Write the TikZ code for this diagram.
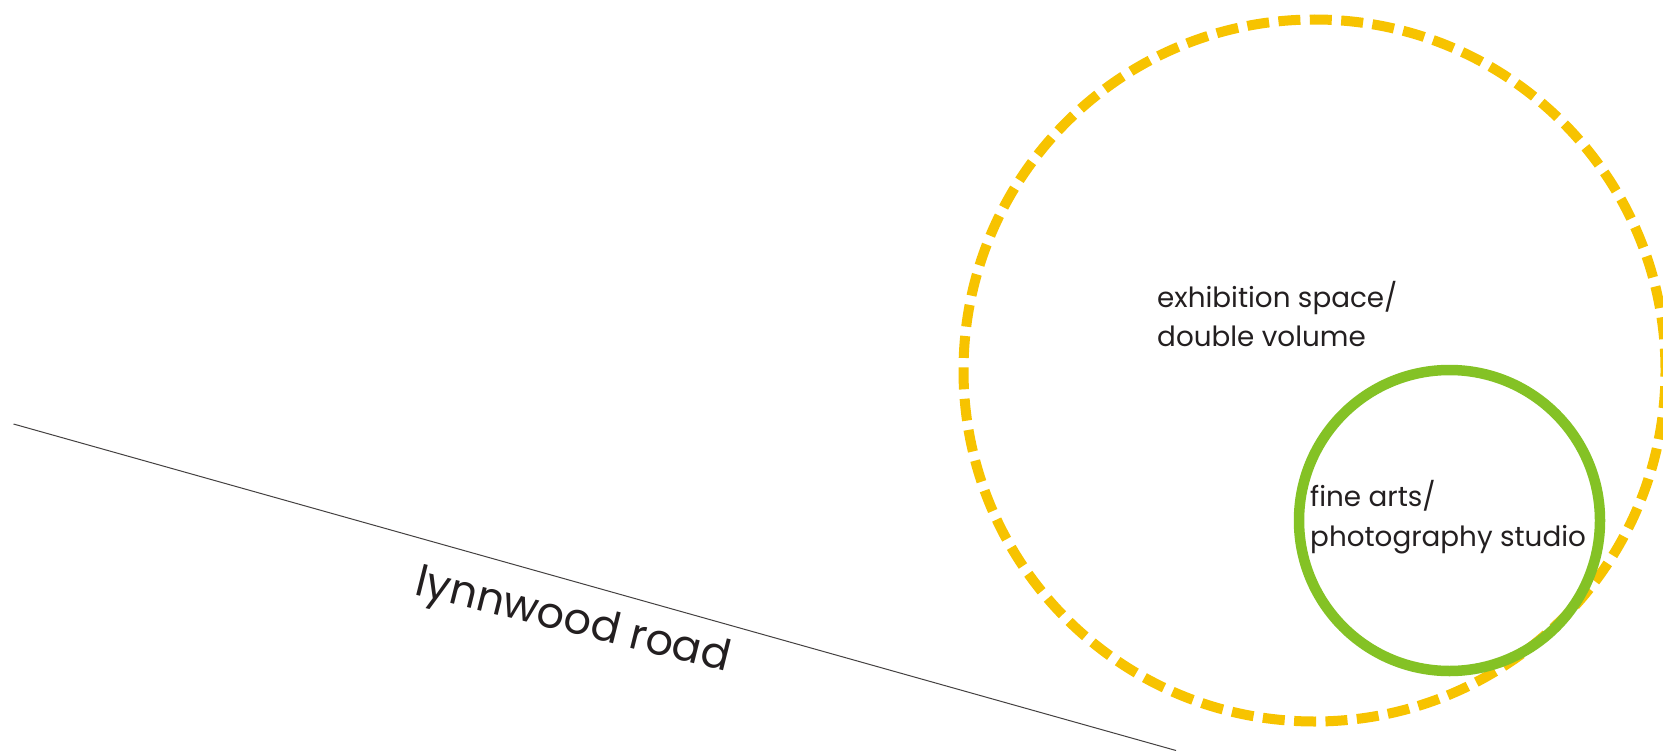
\documentclass[tikz,border=0pt]{standalone}
\usepackage{fontspec}
\setmainfont{Poppins}
\definecolor{exhyellow}{HTML}{F7C300}
\definecolor{studiogreen}{HTML}{84C225}
\definecolor{inkblack}{HTML}{231F20}
\begin{document}
\begin{tikzpicture}[x=1pt,y=-1pt,
  zone/.style={circle,inner sep=0pt,outer sep=0pt},
  label/.style={inner sep=0pt,anchor=base west,align=left,text=inkblack,
    font=\fontsize{27.8}{39.4}\selectfont},
  roadline/.style={line width=1pt,draw=inkblack!85}]
\useasboundingbox (0,0) rectangle (1663,752);
\fill[white] (0,0) rectangle (1663,752);
% road
\coordinate (r1) at (13.5,424);
\coordinate (r2) at (1176,750.5);
\draw[roadline] (r1) -- (r2);
\node[inner sep=0pt,anchor=base,rotate=-14,text=inkblack,
  font=\fontsize{43}{52}\selectfont] (road) at (570,633) {lynnwood road};
% zones
\node[zone,draw=exhyellow,line width=10pt,dash pattern=on 22pt off 9.42pt,
  minimum size=702pt] (exh) at (1314.5,370.5) {};
\node[zone,draw=studiogreen,line width=10.5pt,minimum size=301pt] (studio) at (1449.5,520.5) {};
\node[label] (exhlabel) at (1157,346.7) {exhibition space/\\double volume};
\node[label] (studiolabel) at (1310,546) {fine arts/\\photography studio};
\end{tikzpicture}
\end{document}
